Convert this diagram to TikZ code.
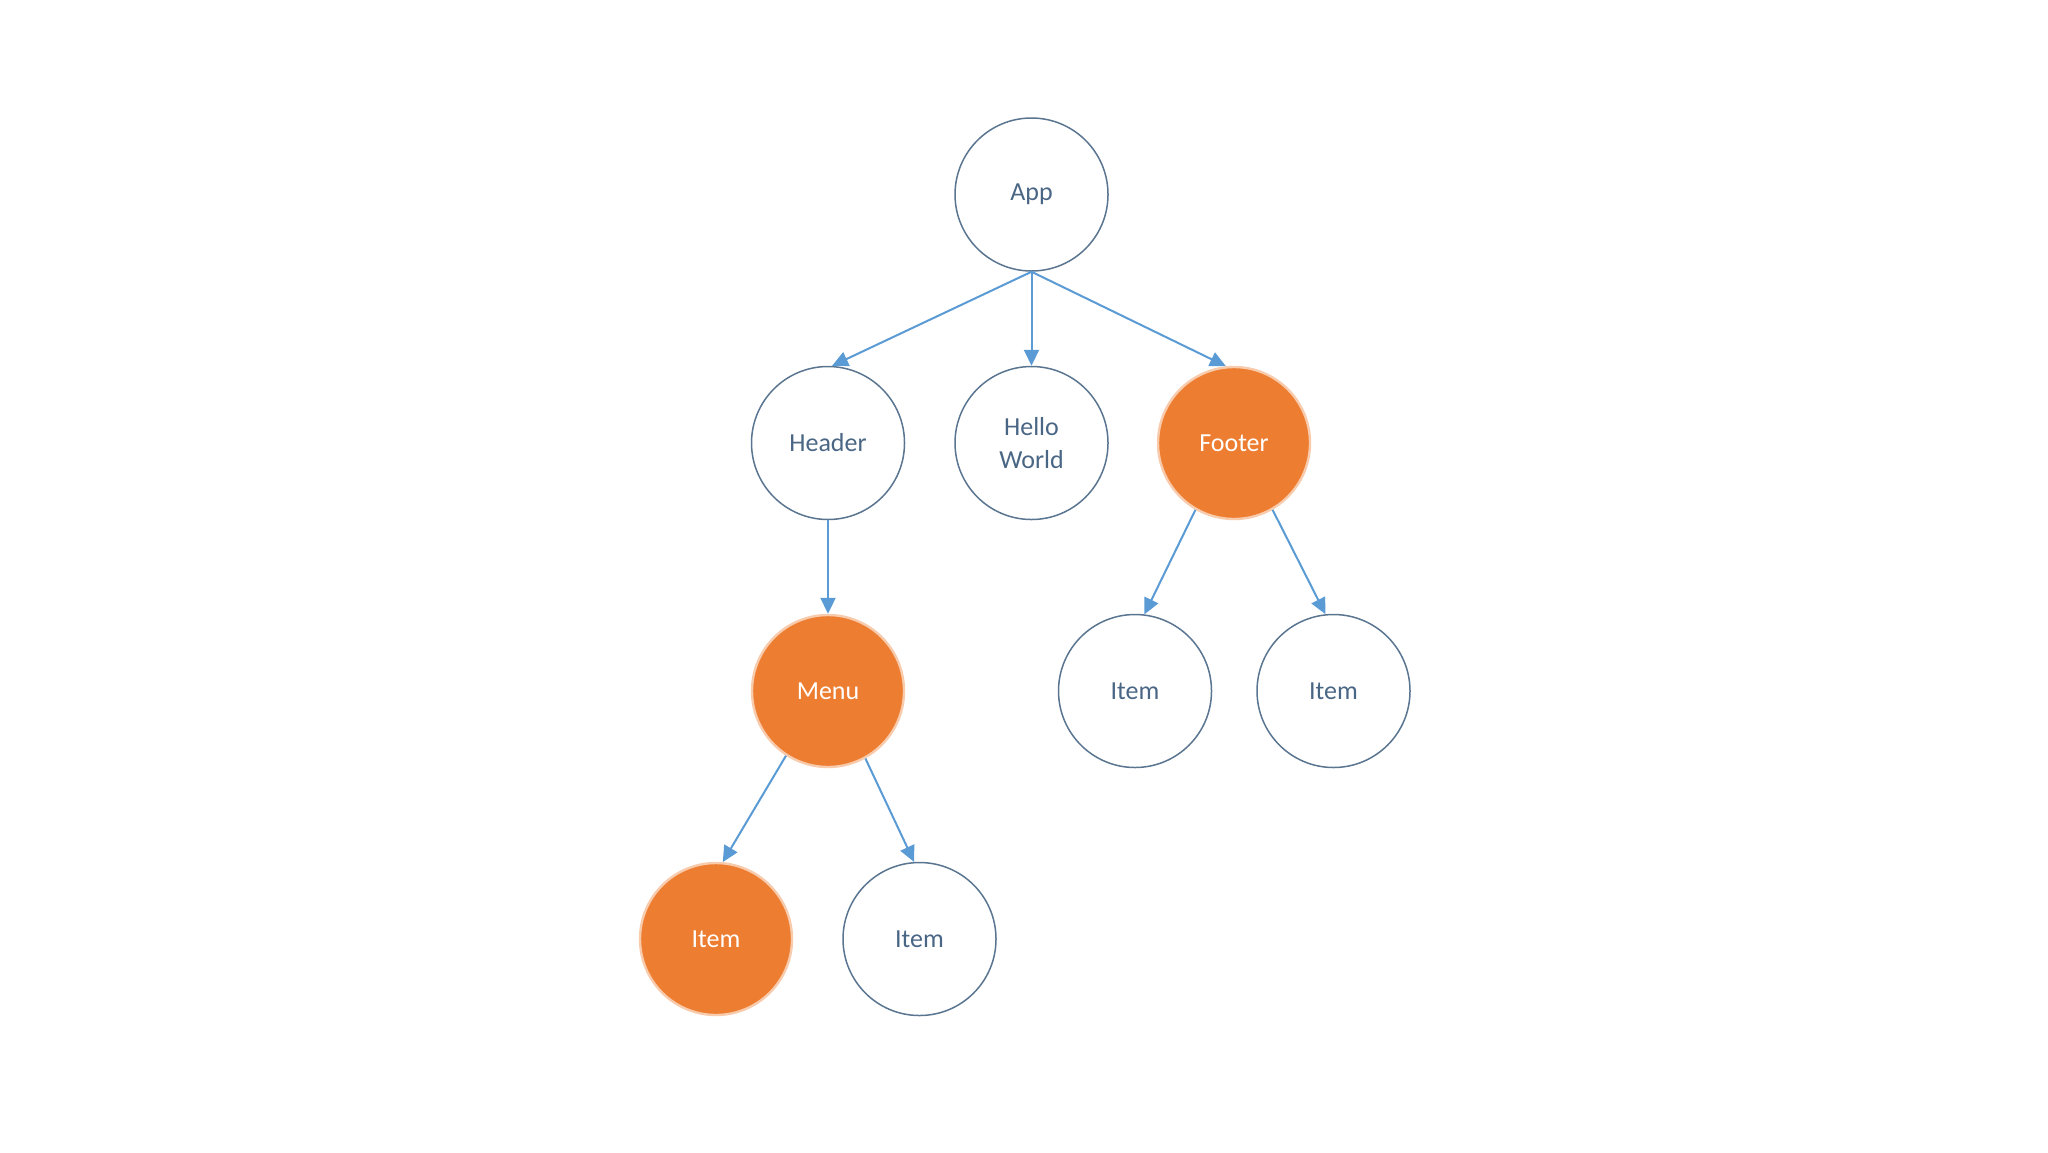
\documentclass[tikz,border=0pt]{standalone}
\usepackage{fontspec}
\setmainfont{Carlito}
\usetikzlibrary{arrows.meta}
\definecolor{ring}{HTML}{5A7590}
\definecolor{txt}{HTML}{4A6685}
\definecolor{arr}{HTML}{5B9BD5}
\definecolor{orng}{HTML}{ED7D31}
\tikzset{
  plain/.style={circle, draw=ring, line width=0.75pt, fill=white, minimum size=76.5pt, inner sep=0pt,
    text=txt, font=\fontsize{13}{16.3}\selectfont, align=center},
  hot/.style={circle, draw=orng!40!white, line width=1.2pt, fill=orng, minimum size=76pt, inner sep=0pt,
    text=white, font=\fontsize{13}{16.3}\selectfont, align=center},
  link/.style={draw=arr, line width=1pt, -{Triangle[length=8pt,width=7.5pt]}}
}
\begin{document}
\begin{tikzpicture}[x=0.5pt,y=-0.5pt]
\useasboundingbox[fill=white] (0,0) rectangle (2048,1152);
\node[plain] (app) at (1031.5,194.5) {App};
\node[plain] (header) at (828,443) {Header};
\node[plain] (hello) at (1031.5,443) {Hello\\World};
\node[hot] (footer) at (1234,443) {Footer};
\node[hot] (menu) at (828,691) {Menu};
\node[plain] (fitem1) at (1135,691) {Item};
\node[plain] (fitem2) at (1333.5,691) {Item};
\node[hot] (mitem1) at (716,939) {Item};
\node[plain] (mitem2) at (919.5,939) {Item};
\draw[link] (app.south) -- (header.87);
\draw[link] (app.south) -- (hello.north);
\draw[link] (app.south) -- (footer.96);
\draw[link] (header.south) -- (menu.north);
\draw[link] (footer.240) -- (fitem1.83);
\draw[link] (footer.300) -- (fitem2.96);
\draw[link] (menu.237) -- (mitem1.85);
\draw[link] (menu.299) -- (mitem2.94);
\end{tikzpicture}
\end{document}
